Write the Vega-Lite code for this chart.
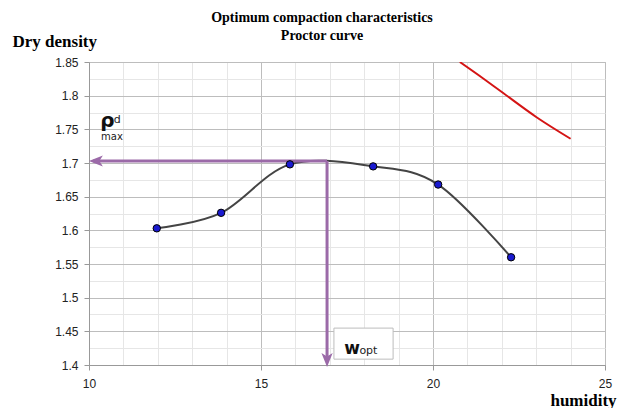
{
  "$schema": "https://vega.github.io/schema/vega-lite/v6.json",
  "width": 516,
  "height": 303,
  "autosize": {"type": "none"},
  "padding": {"left": 89, "top": 62, "right": 27, "bottom": 43},
  "background": "white",
  "view": {"stroke": "#bdbdbd"},
  "config": {"axis": {"labelOverlap": false}},
  "title": {
    "text": ["Optimum compaction characteristics", "Proctor curve"],
    "font": "Liberation Serif",
    "fontSize": 14,
    "fontWeight": "bold",
    "color": "#000",
    "lineHeight": 18,
    "anchor": "middle",
    "dx": -25,
    "offset": -11
  },
  "datasets": {
    "pts": [
      {"x": 11.97, "y": 1.603},
      {"x": 13.84, "y": 1.626},
      {"x": 15.84, "y": 1.698},
      {"x": 18.26, "y": 1.695},
      {"x": 20.15, "y": 1.668},
      {"x": 22.27, "y": 1.560}
    ],
    "sat": [
      {"x": 20.78, "y": 1.85},
      {"x": 21.46, "y": 1.8255},
      {"x": 22.05, "y": 1.8035},
      {"x": 23.01, "y": 1.768},
      {"x": 24.0, "y": 1.736}
    ]
  },
  "resolve": {"axis": {"x": "independent", "y": "independent"}},
  "layer": [
    {
      "data": {"name": "pts"},
      "mark": {"type": "point", "opacity": 0},
      "encoding": {
        "x": {
          "field": "x", "type": "quantitative",
          "scale": {"domain": [10, 25], "nice": false, "zero": false},
          "axis": {
            "orient": "bottom", "title": null, "labels": false, "ticks": false, "domain": false,
            "values": [11,12,13,14,16,17,18,19,21,22,23,24], "tickCount": 40,
            "grid": true, "gridColor": "#e6e6e6", "gridWidth": 1
          }
        },
        "y": {
          "field": "y", "type": "quantitative",
          "scale": {"domain": [1.4, 1.85], "nice": false, "zero": false},
          "axis": {
            "orient": "left", "title": null, "labels": false, "ticks": false, "domain": false,
            "values": [1.425,1.475,1.525,1.575,1.625,1.675,1.725,1.775,1.825], "tickCount": 40,
            "grid": true, "gridColor": "#e6e6e6", "gridWidth": 1
          }
        }
      }
    },
    {
      "layer": [
        {
          "data": {"name": "sat"},
          "mark": {"type": "line", "color": "#d41414", "strokeWidth": 2, "clip": true, "interpolate": "monotone"},
          "encoding": {
            "x": {
              "field": "x", "type": "quantitative",
              "scale": {"domain": [10, 25], "nice": false, "zero": false},
              "axis": {
                "orient": "bottom",
                "title": "humidity",
                "titleFont": "Liberation Serif", "titleFontSize": 17, "titleFontWeight": "bold", "titleColor": "#000",
                "titleAlign": "center", "titleX": 494, "titleY": 40, "titleBaseline": "alphabetic",
                "values": [10, 15, 20, 25], "tickCount": 40,
                "labelExpr": "format(datum.value, 'd')",
                "labelOverlap": false, "labelFlush": false,
                "labelFont": "Liberation Sans", "labelFontSize": 12, "labelColor": "#222", "labelPadding": 8,
                "tickSize": 5, "tickColor": "#999",
                "domainColor": "#999",
                "grid": true, "gridColor": "#bdbdbd", "gridWidth": 1
              }
            },
            "y": {
              "field": "y", "type": "quantitative",
              "scale": {"domain": [1.4, 1.85], "nice": false, "zero": false},
              "axis": {
                "orient": "left",
                "title": "Dry density",
                "titleFont": "Liberation Serif", "titleFontSize": 17, "titleFontWeight": "bold", "titleColor": "#000",
                "titleAngle": 0, "titleAlign": "left", "titleBaseline": "alphabetic", "titleX": -77, "titleY": -16,
                "values": [1.4,1.45,1.5,1.55,1.6,1.65,1.7,1.75,1.8,1.85], "tickCount": 40,
                "labelExpr": "format(datum.value, '.2~f')",
                "labelOverlap": false, "labelFlush": false,
                "labelFont": "Liberation Sans", "labelFontSize": 12, "labelColor": "#222", "labelPadding": 6,
                "tickSize": 5, "tickColor": "#999",
                "domainColor": "#999",
                "grid": true, "gridColor": "#bdbdbd", "gridWidth": 1
              }
            }
          }
        },
        {
          "data": {"name": "pts"},
          "mark": {"type": "line", "color": "#444444", "strokeWidth": 2, "interpolate": "cardinal"},
          "encoding": {
            "x": {"field": "x", "type": "quantitative"},
            "y": {"field": "y", "type": "quantitative"}
          }
        },
        {
          "data": {"values": [
            {"x": 10.12, "x2": 16.92, "y": 1.703},
            {"x": 16.92, "y": 1.703, "y2": 1.412}
          ]},
          "mark": {"type": "rule", "color": "#9b6aa8", "strokeWidth": 3},
          "encoding": {
            "x": {"field": "x", "type": "quantitative"},
            "x2": {"field": "x2"},
            "y": {"field": "y", "type": "quantitative"},
            "y2": {"field": "y2"}
          }
        },
        {
          "data": {"values": [{"x": 10.2, "y": 1.703}]},
          "mark": {"type": "point", "shape": "M-1,0L1,-0.8L0.5,0L1,0.8Z", "filled": true, "color": "#9b6aa8", "opacity": 1, "size": 196},
          "encoding": {
            "x": {"field": "x", "type": "quantitative"},
            "y": {"field": "y", "type": "quantitative"}
          }
        },
        {
          "data": {"values": [{"x": 16.92, "y": 1.4075}]},
          "mark": {"type": "point", "shape": "M0,1L-0.8,-1L0,-0.5L0.8,-1Z", "filled": true, "color": "#9b6aa8", "opacity": 1, "size": 196},
          "encoding": {
            "x": {"field": "x", "type": "quantitative"},
            "y": {"field": "y", "type": "quantitative"}
          }
        },
        {
          "data": {"name": "pts"},
          "mark": {"type": "point", "shape": "circle", "filled": true, "fill": "#1a1ad0", "stroke": "#000", "strokeWidth": 1, "opacity": 1, "size": 55},
          "encoding": {
            "x": {"field": "x", "type": "quantitative"},
            "y": {"field": "y", "type": "quantitative"}
          }
        },
        {
          "data": {"values": [{"x": 17.12, "x2": 18.84, "y": 1.4087, "y2": 1.4548}]},
          "mark": {"type": "rect", "fill": "#ffffff", "stroke": "#bdbdbd", "strokeWidth": 1},
          "encoding": {
            "x": {"field": "x", "type": "quantitative"},
            "x2": {"field": "x2"},
            "y": {"field": "y", "type": "quantitative"},
            "y2": {"field": "y2"}
          }
        },
        {
          "data": {"values": [
            {"x": 10.33, "y": 1.7534, "t": "ρ", "s": 20},
            {"x": 17.42, "y": 1.4165, "t": "w", "s": 17}
          ]},
          "mark": {"type": "text", "font": "DejaVu Sans", "fontWeight": "bold", "align": "left", "baseline": "alphabetic", "color": "#111"},
          "encoding": {
            "x": {"field": "x", "type": "quantitative"},
            "y": {"field": "y", "type": "quantitative"},
            "text": {"field": "t"},
            "size": {"field": "s", "type": "quantitative", "scale": null}
          }
        },
        {
          "data": {"values": [
            {"x": 10.72, "y": 1.760, "t": "d", "s": 11},
            {"x": 10.35, "y": 1.734, "t": "max", "s": 10},
            {"x": 17.86, "y": 1.4165, "t": "opt", "s": 11}
          ]},
          "mark": {"type": "text", "font": "DejaVu Sans", "align": "left", "baseline": "alphabetic", "color": "#222"},
          "encoding": {
            "x": {"field": "x", "type": "quantitative"},
            "y": {"field": "y", "type": "quantitative"},
            "text": {"field": "t"},
            "size": {"field": "s", "type": "quantitative", "scale": null}
          }
        }
      ]
    }
  ]
}
